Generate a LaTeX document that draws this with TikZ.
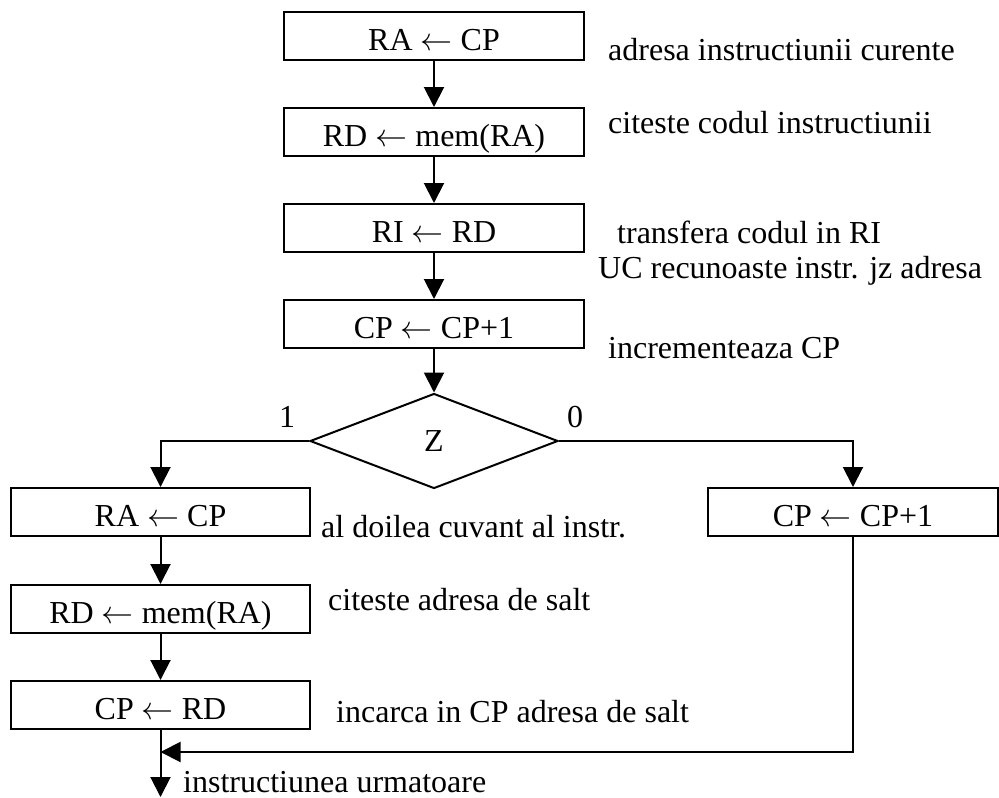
\RequirePackage{fix-cm}
\documentclass[tikz,border=0pt]{standalone}
\usepackage{fontspec}
\setmainfont{Liberation Serif}
\usetikzlibrary{arrows.meta,shapes.geometric}
\newcommand{\assignarrow}{$\leftarrow$}
\begin{document}
\begin{tikzpicture}[x=1pt,y=-1pt,
  every node/.style={font=\fontsize{32}{36}\selectfont, inner sep=0pt},
  box/.style={draw, line width=2pt, minimum height=48pt, minimum width=300pt,
    text height=28pt, text depth=0pt},
  decision/.style={draw, line width=2pt, diamond, minimum width=248pt, minimum height=95pt},
  flow/.style={line width=2pt, -{Triangle[width=20pt,length=20pt]}},
  note/.style={anchor=base west},
  ]
\useasboundingbox (0,0) rectangle (999,798);

% main sequence
\node[box] (b1) at (434,36)  {RA \assignarrow{} CP};
\node[box] (b2) at (434,132) {RD \assignarrow{} mem(RA)};
\node[box] (b3) at (434,228) {RI \assignarrow{} RD};
\node[box] (b4) at (434,324) {CP \assignarrow{} CP+1};
\node[decision] (z) at (434,441) {Z};

% branch 1
\node[box, minimum width=299pt] (l1) at (160.5,512) {RA \assignarrow{} CP};
\node[box, minimum width=299pt] (l2) at (160.5,609) {RD \assignarrow{} mem(RA)};
\node[box, minimum width=299pt] (l3) at (160.5,705) {CP \assignarrow{} RD};

% branch 0
\node[box, minimum width=290pt] (r1) at (853,512) {CP \assignarrow{} CP+1};

% comments
\node[note] (n1) at (608,60)  {adresa instructiunii curente};
\node[note] (n2) at (608,133) {citeste codul instructiunii};
\node[note] (n3) at (617,243) {transfera codul in RI};
\node[note] (n4) at (598,278) {UC recunoaste instr. jz adresa};
\node[note] (n5) at (608,358) {incrementeaza CP};
\node[note] (n6) at (321,537) {al doilea cuvant al instr.};
\node[note] (n7) at (328,610) {citeste adresa de salt};
\node[note] (n8) at (336,722) {incarca in CP adresa de salt};
\node[note] (n9) at (183,792) {instructiunea urmatoare};

% branch labels
\node[anchor=base] (c1) at (287,427) {1};
\node[anchor=base] (c0) at (575,427) {0};

% connectors
\draw[flow] (b1) -- (b2);
\draw[flow] (b2) -- (b3);
\draw[flow] (b3) -- (b4);
\draw[flow] (b4) -- (z);
\draw[flow] (z.west) -| (l1.north);
\draw[flow] (z.east) -| (r1.north);
\draw[flow] (l1) -- (l2);
\draw[flow] (l2) -- (l3);
\coordinate (join) at (160.5,752);
\coordinate (out) at (160.5,797);
\draw[flow] (r1.south) |- (join);
\draw[flow] (l3.south) -- (out);
\end{tikzpicture}
\end{document}
